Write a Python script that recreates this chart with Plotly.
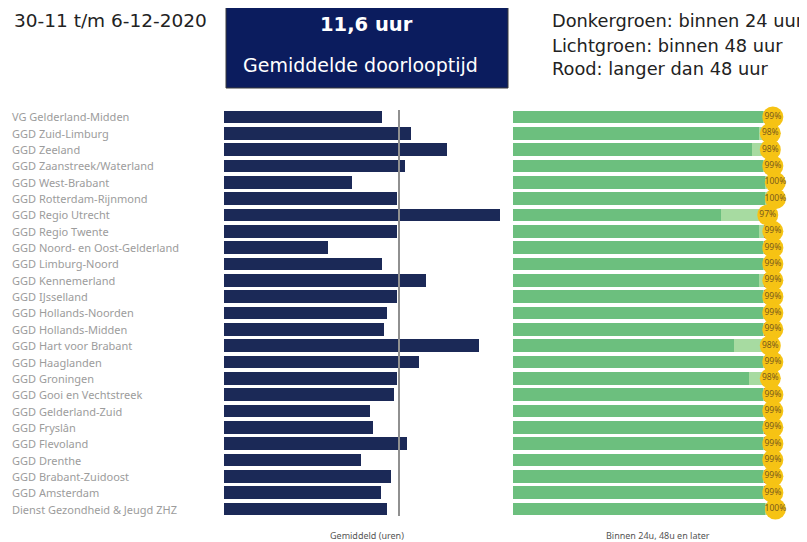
import plotly.graph_objects as go

W, H = 807, 542
OFF = 8  # page body margin in the browser
FW, FH = W - OFF, H - OFF

regions = [
    "VG Gelderland-Midden", "GGD Zuid-Limburg", "GGD Zeeland", "GGD Zaanstreek/Waterland",
    "GGD West-Brabant", "GGD Rotterdam-Rijnmond", "GGD Regio Utrecht", "GGD Regio Twente",
    "GGD Noord- en Oost-Gelderland", "GGD Limburg-Noord", "GGD Kennemerland", "GGD IJsselland",
    "GGD Hollands-Noorden", "GGD Hollands-Midden", "GGD Hart voor Brabant", "GGD Haaglanden",
    "GGD Groningen", "GGD Gooi en Vechtstreek", "GGD Gelderland-Zuid", "GGD Fryslân",
    "GGD Flevoland", "GGD Drenthe", "GGD Brabant-Zuidoost", "GGD Amsterdam",
    "Dienst Gezondheid & Jeugd ZHZ",
]
avg_hours = [10.5, 12.4, 14.8, 12.0, 8.5, 11.5, 18.3, 11.5, 6.9, 10.5, 13.4, 11.5, 10.8,
             10.6, 16.9, 12.9, 11.5, 11.3, 9.7, 9.9, 12.1, 9.1, 11.1, 10.4, 10.8]
overall_avg = 11.6
pct_24h = [98.5, 97, 94, 98.5, 99.5, 99.5, 82, 97, 98.5, 98.5, 97, 98.5, 98.5,
           98.5, 87, 98.5, 93, 98.5, 98.5, 98.5, 98.5, 98.5, 98.5, 98.5, 99.5]
pct_48h = [99, 98, 98, 99, 100, 100, 97, 99, 99, 99, 99, 99, 99,
           99, 98, 99, 98, 99, 99, 99, 99, 99, 99, 99, 100]
pct_later = [100 - v for v in pct_48h]
pct_24_48 = [b - a for a, b in zip(pct_24h, pct_48h)]
pct_labels = [f"{v}%" for v in pct_48h]

NAVY = "#1b2957"
DARK_GREEN = "#6cbf7e"
LIGHT_GREEN = "#a7dba1"
RED = "#e0573f"
GOLD = "#f6c314"


def px(x):
    return (x - OFF) / FW


def py(y):
    return 1 - (y - OFF) / FH


fig = go.Figure()

fig.add_trace(go.Bar(x=avg_hours, y=regions, orientation="h", marker_color=NAVY,
                     marker_line_width=0, xaxis="x", yaxis="y", showlegend=False))

fig.add_trace(go.Bar(x=pct_24h, y=regions, orientation="h", marker_color=DARK_GREEN,
                     marker_line_width=0, xaxis="x2", yaxis="y2", showlegend=False))
fig.add_trace(go.Bar(x=pct_24_48, y=regions, orientation="h", marker_color=LIGHT_GREEN,
                     marker_line_width=0, xaxis="x2", yaxis="y2", showlegend=False))
fig.add_trace(go.Bar(x=pct_later, y=regions, orientation="h", marker_color=RED,
                     marker_line_width=0, xaxis="x2", yaxis="y2", showlegend=False))

blob_offset = 3.3
fig.add_trace(go.Scatter(
    x=[v + blob_offset for v in pct_48h], y=regions, mode="markers+text",
    marker=dict(size=21, color=GOLD, line_width=0),
    text=pct_labels, textposition="middle center",
    textfont=dict(size=8.5, color="#7a5a1c", family="Noto Sans"),
    xaxis="x2", yaxis="y2", showlegend=False, cliponaxis=False))

y_top_px, y_bot_px = 108.8, 517.2
ydom = [py(y_bot_px), py(y_top_px)]
yrange = [len(regions) - 0.5, -0.5]
x1_left, x1_px_per = 224, 175 / overall_avg
x1_range = [0, 19]
x2_left, x2_px_per = 513, 2.54
x2_range = [0, 110]

fig.update_layout(
    width=FW, height=FH, margin=dict(l=0, r=0, t=0, b=0),
    paper_bgcolor="white", plot_bgcolor="white",
    barmode="stack", bargap=0.24,
    xaxis=dict(domain=[px(x1_left), px(x1_left + x1_range[1] * x1_px_per)], range=x1_range,
               visible=False),
    yaxis=dict(domain=ydom, range=yrange, autorange=False, visible=False, anchor="x"),
    xaxis2=dict(domain=[px(x2_left), px(x2_left + x2_range[1] * x2_px_per)], range=x2_range,
                visible=False),
    yaxis2=dict(domain=ydom, range=yrange, autorange=False, visible=False, anchor="x2"),
)

# average reference line
fig.add_shape(type="line", xref="x", yref="paper", x0=overall_avg, x1=overall_avg,
              y0=py(516), y1=py(110), line=dict(color="#909090", width=2))

# header box
fig.add_shape(type="rect", xref="paper", yref="paper", x0=px(226), x1=px(508),
              y0=py(88), y1=py(3), fillcolor="#0b1c5e",
              line=dict(color="#3a3a3a", width=1), layer="below")

annos = []
for r in regions:
    annos.append(dict(x=px(10), y=r, xref="paper", yref="y", text=r, showarrow=False,
                      xanchor="left", yanchor="middle",
                      font=dict(size=11, color="#9c9c9c", family="Noto Sans")))

extra = [
    dict(x=px(12), y=py(20), text="30-11 t/m 6-12-2020", xanchor="left", yanchor="middle",
         font=dict(size=18.5, color="#222", family="DejaVu Sans")),
    dict(x=px(366), y=py(25), text="<b>11,6 uur</b>", xanchor="center", yanchor="middle",
         font=dict(size=19.5, color="white", family="DejaVu Sans")),
    dict(x=px(360), y=py(65), text="Gemiddelde doorlooptijd", xanchor="center",
         yanchor="middle", font=dict(size=19, color="white", family="DejaVu Sans")),
    dict(x=px(550), y=py(21), text="Donkergroen: binnen 24 uur", xanchor="left",
         yanchor="middle", font=dict(size=17.8, color="#222", family="DejaVu Sans")),
    dict(x=px(550), y=py(45), text="Lichtgroen: binnen 48 uur", xanchor="left",
         yanchor="middle", font=dict(size=17.8, color="#222", family="DejaVu Sans")),
    dict(x=px(550), y=py(69), text="Rood: langer dan 48 uur", xanchor="left",
         yanchor="middle", font=dict(size=17.8, color="#222", family="DejaVu Sans")),
    dict(x=px(367), y=py(535), text="Gemiddeld (uren)", xanchor="center", yanchor="middle",
         font=dict(size=9, color="#555", family="Noto Sans")),
    dict(x=px(658), y=py(535), text="Binnen 24u, 48u en later", xanchor="center",
         yanchor="middle", font=dict(size=9, color="#555", family="Noto Sans")),
]
for a in extra:
    a.update(xref="paper", yref="paper", showarrow=False)

fig.update_layout(annotations=annos + extra)

fig.write_html("out.html")
